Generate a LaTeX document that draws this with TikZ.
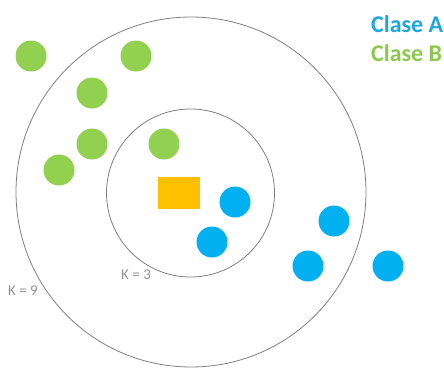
\documentclass[tikz,border=0pt]{standalone}
\usepackage{fontspec}
\setmainfont{Carlito}
\definecolor{clsA}{HTML}{00B0F0}
\definecolor{clsB}{HTML}{92D050}
\definecolor{query}{HTML}{FFC000}
\definecolor{txtA}{HTML}{1CA7E0}
\definecolor{txtB}{HTML}{8CC84B}
\definecolor{ring}{HTML}{7F7F7F}
\begin{document}
\begin{tikzpicture}[x=1pt,y=-1pt,
  ptA/.style={circle,fill=clsA,inner sep=0pt,minimum size=31pt},
  ptB/.style={circle,fill=clsB,inner sep=0pt,minimum size=31pt},
  kring/.style={circle,draw=ring,line width=0.8pt,inner sep=0pt},
  klabel/.style={text=ring!85,font=\fontsize{15}{17}\selectfont,inner sep=0pt},
  legend/.style={font=\fontsize{24}{27}\selectfont\bfseries,inner sep=0pt,anchor=west}]
\useasboundingbox (0,0) rectangle (444,367);
\node[kring,minimum size=350pt] (outer) at (191,192) {};
\node[kring,minimum size=168pt] (inner) at (190.5,193) {};
% class B
\node[ptB] (b1) at (31,56) {};
\node[ptB] (b2) at (136,56) {};
\node[ptB] (b3) at (92,93) {};
\node[ptB] (b4) at (92,144) {};
\node[ptB] (b5) at (59,170) {};
\node[ptB] (b6) at (164,144) {};
% class A
\node[ptA] (a1) at (235,202) {};
\node[ptA] (a2) at (212,242) {};
\node[ptA] (a3) at (334,221) {};
\node[ptA] (a4) at (308,266) {};
\node[ptA] (a5) at (388,266) {};
% query
\node[fill=query,minimum width=42pt,minimum height=32pt,inner sep=0pt] (q) at (179,193) {};
% labels
\node[klabel,anchor=west] (k9) at (8,291) {K = 9};
\node[klabel,anchor=west] (k3) at (121,275) {K = 3};
\node[legend,text=txtA] (la) at (371,24) {Clase A};
\node[legend,text=txtB] (lb) at (371,53) {Clase B};
\end{tikzpicture}
\end{document}
